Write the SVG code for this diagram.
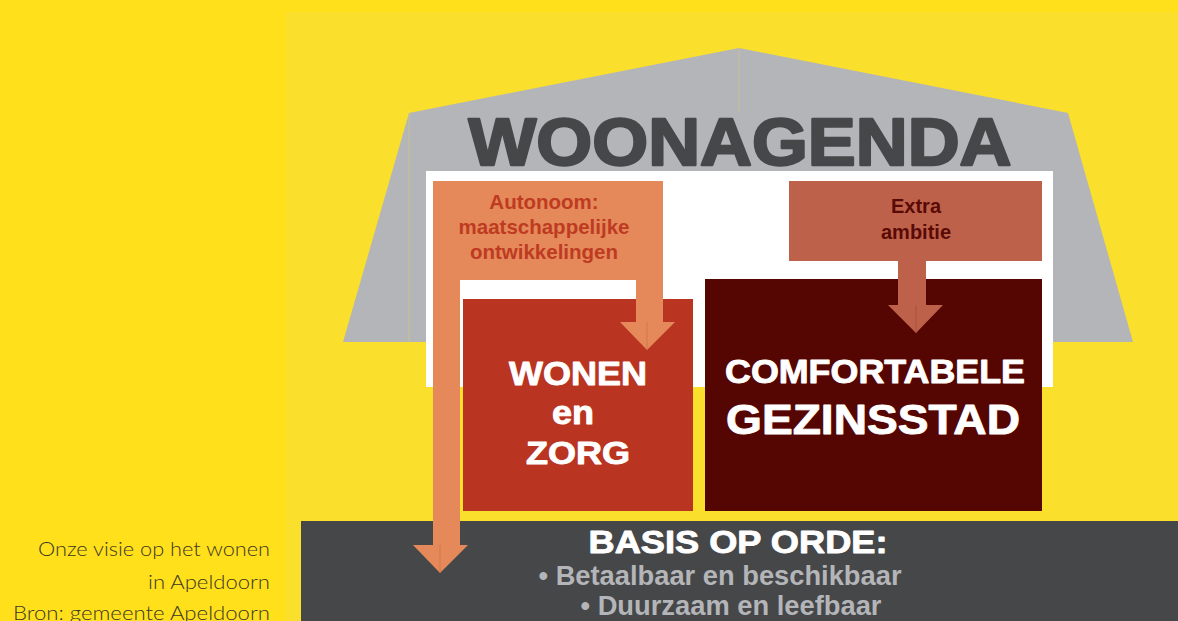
<svg xmlns="http://www.w3.org/2000/svg" width="1178" height="621" viewBox="0 0 1178 621">
  <style>
    .b { font-family: "Liberation Sans", Arial, sans-serif; font-weight: 700; text-anchor: middle; }
    .white { fill: #FFFFFF; stroke: #FFFFFF; stroke-width: 0.9; stroke-linejoin: round; }
    .heavy { stroke-width: 2.4; stroke-linejoin: round; }
    .note { font-family: Lato, "Open Sans", sans-serif; font-weight: 300; font-size: 20.5px; fill: #3A3626; text-anchor: end; }
    .seam { stroke: #D2C77E; stroke-width: 0.7; fill: none; }
    .split { stroke-width: 0.8; fill: none; }
  </style>

  <!-- backgrounds -->
  <rect x="0" y="0" width="1178" height="621" fill="#FFE01A"/>
  <rect x="286" y="12" width="892" height="609" fill="#FADF2C"/>

  <!-- house outline with roof -->
  <g id="house">
    <polygon points="343,342 409,113 739,48 1068,113 1133,342" fill="#B4B5B8"/>
    <line class="seam" x1="739" y1="48" x2="739" y2="113"/>
    <line class="seam" x1="409" y1="113" x2="409" y2="342"/>
    <rect x="426" y="171" width="627" height="216" fill="#FFFFFF"/>
  </g>

  <g id="title">
    <text class="b heavy" x="740" y="165" font-size="67" fill="#464749" stroke="#464749" textLength="543" lengthAdjust="spacingAndGlyphs">WOONAGENDA</text>
  </g>

  <!-- foundation bar -->
  <g id="basis">
    <rect x="301" y="521" width="877" height="100" fill="#464749"/>
    <text class="b white" x="738" y="553" font-size="32" textLength="299" lengthAdjust="spacingAndGlyphs">BASIS OP ORDE:</text>
    <text class="b" x="720" y="585" font-size="27" fill="#B4B5B8" textLength="363" lengthAdjust="spacingAndGlyphs">• Betaalbaar en beschikbaar</text>
    <text class="b" x="731" y="615" font-size="27" fill="#B4B5B8" textLength="301" lengthAdjust="spacingAndGlyphs">• Duurzaam en leefbaar</text>
  </g>

  <g id="wonen-zorg">
    <rect x="463" y="299" width="230" height="212" fill="#B93421"/>
    <text class="b white" x="578" y="385" font-size="33" textLength="138" lengthAdjust="spacingAndGlyphs">WONEN</text>
    <text class="b white" x="573" y="424" font-size="33" textLength="42" lengthAdjust="spacingAndGlyphs">en</text>
    <text class="b white" x="578" y="464" font-size="32" textLength="104" lengthAdjust="spacingAndGlyphs">ZORG</text>
  </g>

  <g id="gezinsstad">
    <rect x="705" y="279" width="337" height="232" fill="#560602"/>
    <text class="b white" x="875" y="383" font-size="33" textLength="300" lengthAdjust="spacingAndGlyphs">COMFORTABELE</text>
    <text class="b white" x="873" y="434" font-size="42" textLength="294" lengthAdjust="spacingAndGlyphs">GEZINSSTAD</text>
  </g>

  <!-- block arrows -->
  <g id="connectors">
    <g id="autonoom">
      <polygon points="433,181 663,181 663,322 675,322 647,350 620,322 636,322 636,280 460,280 460,545 468,545 440,573 413,545 433,545" fill="#E5895A"/>
      <line class="split" x1="647" y1="322" x2="647" y2="350" stroke="#CF7447"/>
      <line class="split" x1="440" y1="545" x2="440" y2="573" stroke="#CF7447"/>
      <text class="b" x="544" y="209" font-size="20.5" fill="#BE3B22">Autonoom:</text>
      <text class="b" x="544" y="234" font-size="20.5" fill="#BE3B22">maatschappelijke</text>
      <text class="b" x="544" y="259" font-size="20.5" fill="#BE3B22">ontwikkelingen</text>
    </g>
    <g id="extra-ambitie">
      <polygon points="789,181 1042,181 1042,261 926,261 926,305 943,305 916,333 888,305 898,305 898,261 789,261" fill="#BD614B"/>
      <line class="split" x1="916" y1="305" x2="916" y2="333" stroke="#A64E3A"/>
      <text class="b" x="916" y="213" font-size="20" fill="#5A0A05">Extra</text>
      <text class="b" x="916" y="239" font-size="20" fill="#5A0A05">ambitie</text>
    </g>
  </g>

  <g id="caption">
    <text class="note" x="270" y="556" textLength="232" lengthAdjust="spacingAndGlyphs">Onze visie op het wonen</text>
    <text class="note" x="270" y="589" textLength="122" lengthAdjust="spacingAndGlyphs">in Apeldoorn</text>
    <text class="note" x="270" y="620" textLength="257" lengthAdjust="spacingAndGlyphs">Bron: gemeente Apeldoorn</text>
  </g>
</svg>
